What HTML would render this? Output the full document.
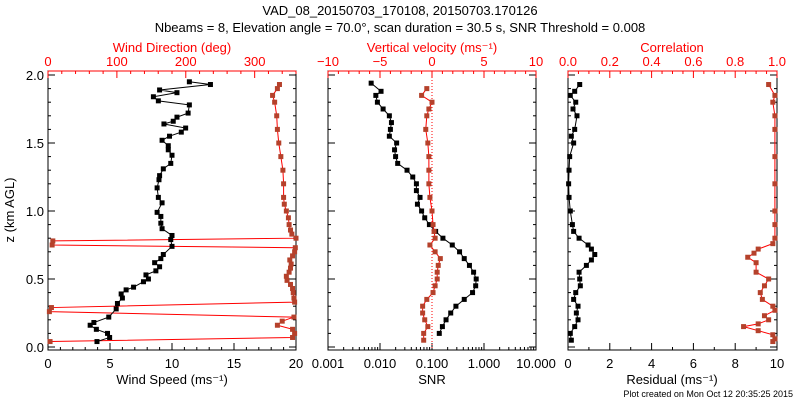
<!DOCTYPE html>
<html><head><meta charset="utf-8"><style>
html,body{margin:0;padding:0;background:#fff;}
svg{display:block;font-family:"Liberation Sans",sans-serif;}
</style></head><body>
<svg id="c" width="800" height="400" xmlns="http://www.w3.org/2000/svg">
<text x="400" y="15" font-size="13" text-anchor="middle">VAD_08_20150703_170108, 20150703.170126</text>
<text x="400" y="32" font-size="13" text-anchor="middle">Nbeams = 8, Elevation angle = 70.0°, scan duration = 30.5 s, SNR Threshold = 0.008</text>
<text x="793" y="397" font-size="9" text-anchor="end">Plot created on Mon Oct 12 20:35:25 2015</text>
</svg>
<script>
// ---- data ----
const speedZ = [0.04,0.07,0.10,0.13,0.16,0.18,0.22,0.28,0.32,0.36,0.39,0.42,0.44,0.48,0.50,0.53,0.56,0.59,0.62,0.65,0.68,0.74,0.79,0.82,0.87,0.91,0.96,0.99,1.06,1.10,1.17,1.23,1.26,1.31,1.35,1.41,1.45,1.48,1.52,1.55,1.58,1.61,1.64,1.66,1.69,1.72,1.78,1.81,1.84,1.87,1.89,1.93,1.95];
const speed = [3.95,4.97,4.8,3.9,3.4,3.7,4.9,5.5,5.6,6.0,5.9,6.3,6.9,7.7,8.1,7.9,8.7,9.0,8.6,9.1,9.3,10.0,9.9,10.0,9.2,9.1,9.1,8.8,9.2,8.9,8.8,8.95,9.0,9.3,9.9,10.0,9.7,9.7,9.2,9.8,10.75,11.1,9.35,10.1,10.4,11.3,11.4,8.9,8.5,10.4,9.0,13.1,11.4];
const dirZ = [0.04,0.07,0.10,0.13,0.16,0.19,0.22,0.26,0.29,0.33,0.36,0.40,0.43,0.46,0.49,0.52,0.55,0.58,0.61,0.64,0.67,0.70,0.73,0.75,0.78,0.80,0.83,0.86,0.90,0.95,1.00,1.05,1.10,1.20,1.30,1.40,1.50,1.60,1.70,1.80,1.85,1.90,1.93];
const dir = [3,355,358,355,333,340,357,2,5,358,357,356,355,352,347,346,350,352,353,351,355,358,359,6,7,360,354,352,350,349,346,343,342,342,341,338,335,333,332,329,326,333,336];
const snrZ = [0.10,0.15,0.20,0.25,0.30,0.35,0.40,0.45,0.50,0.55,0.60,0.65,0.70,0.75,0.80,0.85,0.90,0.95,1.00,1.05,1.10,1.15,1.20,1.25,1.30,1.35,1.40,1.45,1.50,1.55,1.60,1.65,1.70,1.75,1.80,1.85,1.88,1.94];
const snrLog = [-0.86,-0.80,-0.73,-0.64,-0.54,-0.38,-0.22,-0.16,-0.15,-0.20,-0.28,-0.38,-0.47,-0.61,-0.79,-0.93,-1.05,-1.14,-1.20,-1.28,-1.23,-1.30,-1.30,-1.37,-1.48,-1.66,-1.70,-1.72,-1.68,-1.82,-1.80,-1.78,-1.82,-1.94,-2.05,-2.08,-1.98,-2.17];
const velZ = [0.05,0.10,0.15,0.20,0.25,0.30,0.35,0.40,0.45,0.50,0.55,0.60,0.65,0.70,0.75,0.80,0.85,0.90,1.00,1.10,1.20,1.30,1.40,1.50,1.60,1.70,1.75,1.80,1.85,1.90];
const vel = [-0.8,-0.8,-0.4,-0.7,-0.9,-0.9,-0.5,0.1,0.3,0.5,0.5,0.6,0.8,0.3,-0.2,0.3,0.2,0.1,0.0,-0.2,-0.3,-0.3,-0.3,-0.4,-0.6,-0.5,-0.3,0.0,-1.0,-0.5];
const resZ = [0.05,0.10,0.15,0.20,0.25,0.30,0.35,0.40,0.45,0.50,0.55,0.60,0.64,0.68,0.72,0.75,0.80,0.85,0.90,1.00,1.10,1.20,1.30,1.40,1.50,1.55,1.60,1.70,1.75,1.80,1.85,1.88,1.93];
const resid = [0.16,0.11,0.32,0.48,0.40,0.48,0.27,0.37,0.59,0.56,0.53,0.88,1.12,1.28,1.12,0.96,0.53,0.27,0.21,0.11,0.05,0.03,0.05,0.08,0.27,0.16,0.32,0.43,0.24,0.37,0.11,0.32,0.56];
const corZ = [0.04,0.06,0.09,0.12,0.15,0.17,0.20,0.23,0.27,0.30,0.35,0.40,0.45,0.50,0.55,0.62,0.66,0.69,0.72,0.76,0.80,0.90,1.00,1.20,1.40,1.60,1.70,1.80,1.85,1.93];
const corr = [0.98,0.99,0.98,0.91,0.84,0.91,0.96,0.94,0.99,0.98,0.93,0.92,0.94,0.96,0.90,0.90,0.86,0.89,0.91,0.98,0.99,0.99,0.99,0.99,0.99,0.99,0.99,0.98,0.99,0.96];
const speedTicks = ["0","5","10","15","20"];
const dirTicks = ["0","100","200","300"];
const velTicks = ["−10","−5","0","5","10"];
const snrTicks = ["0.001","0.010","0.100","1.000","10.000"];
const corTicks = ["0.0","0.2","0.4","0.6","0.8","1.0"];
const resTicks = ["0","2","4","6","8","10"];
const zTicks = ["0.0","0.5","1.0","1.5","2.0"];

// ---- drawing ----
const svg = document.getElementById('c');
const NS = 'http://www.w3.org/2000/svg';
const RED = '#ff0000', BR = '#b5412b';
const TOP = 71, BOT = 350;
const yZ = z => 347 - 136 * z;
function el(tag, attrs, parent) {
  const e = document.createElementNS(NS, tag);
  for (const k in attrs) e.setAttribute(k, attrs[k]);
  (parent || svg).appendChild(e);
  return e;
}
function txt(x, y, s, attrs) {
  const t = el('text', Object.assign({x: x, y: y, 'font-size': 13, 'text-anchor': 'middle'}, attrs || {}));
  t.textContent = s;
  return t;
}
const P = [{x0: 48, x1: 296}, {x0: 328, x1: 536}, {x0: 568, x1: 777}];
P.forEach((p, i) => {
  const f = el('rect', {x: p.x0, y: TOP, width: p.x1 - p.x0, height: BOT - TOP, fill: 'none', stroke: '#000'});
  
  
  const tl = el('line', {x1: p.x0, x2: p.x1, y1: TOP, y2: TOP, stroke: RED});
  
  
  // y ticks
  for (let k = 0; k <= 20; k++) {
    const y = yZ(k / 10), len = k % 5 === 0 ? 7 : 3;
    el('line', {x1: p.x0, x2: p.x0 + len, y1: y, y2: y, stroke: '#000'});
    el('line', {x1: p.x1, x2: p.x1 - len, y1: y, y2: y, stroke: '#000'});
  }
});
zTicks.forEach((s, k) => {
  const t = txt(44, yZ(k * 0.5) + 5, s, {'text-anchor': 'end'});
  
  
});
const yt = txt(0, 0, 'z (km AGL)', {transform: 'translate(14,210) rotate(-90)'});



function linAxis(p, lo, hi, labels, major, minor, isTop, color, name) {
  const sx = v => p.x0 + (v - lo) / (hi - lo) * (p.x1 - p.x0);
  const y = isTop ? TOP : BOT, d = isTop ? 1 : -1;
  for (let v = lo; v <= hi + 1e-9; v += minor) {
    const isMaj = Math.abs(Math.round((v - lo) / major) * major - (v - lo)) < 1e-6;
    el('line', {x1: sx(v), x2: sx(v), y1: y, y2: y + d * (isMaj ? 7 : 3), stroke: color});
  }
  labels.forEach((s, k) => {
    const t = txt(sx(lo + k * major), isTop ? 66 : 368, s, {fill: color});
    
    
  });
  return sx;
}
const sxSpeed = linAxis(P[0], 0, 20, speedTicks, 5, 1, false, '#000', 'speed-tick-label');
const sxDir = linAxis({x0: 48, x1: 296}, 0, 360, dirTicks, 100, 20, true, RED, 'direction-tick-label');
const sxVel = linAxis(P[1], -10, 10, velTicks, 5, 1, true, RED, 'velocity-tick-label');
const sxCor = linAxis(P[2], 0, 1, corTicks, 0.2, 0.05, true, RED, 'correlation-tick-label');
const sxRes = linAxis(P[2], 0, 10, resTicks, 2, 1, false, '#000', 'residual-tick-label');
// log axis
const sxSnr = l => P[1].x0 + (l + 3) / 4 * (P[1].x1 - P[1].x0);
for (let dcd = -3; dcd <= 1; dcd++) {
  for (let m = 1; m <= 9; m++) {
    const l = dcd + Math.log10(m);
    if (l > 1) break;
    el('line', {x1: sxSnr(l), x2: sxSnr(l), y1: BOT, y2: BOT - (m === 1 ? 7 : 3), stroke: '#000'});
  }
}
snrTicks.forEach((s, k) => {
  const t = txt(sxSnr(k - 3), 368, s);
  
  
});
// titles
[[172, 384, 'Wind Speed (ms⁻¹)', '#000', 'x-axis-title-speed'],
 [172, 52, 'Wind Direction (deg)', RED, 'x-axis-title-direction'],
 [432, 52, 'Vertical velocity (ms⁻¹)', RED, 'x-axis-title-velocity'],
 [432, 384, 'SNR', '#000', 'x-axis-title-snr'],
 [672, 52, 'Correlation', RED, 'x-axis-title-correlation'],
 [672, 384, 'Residual (ms⁻¹)', '#000', 'x-axis-title-residual']].forEach(a => {
  const t = txt(a[0], a[1], a[2], {fill: a[3]});
  
  
});
// zero velocity dotted line
el('line', {x1: sxVel(0), x2: sxVel(0), y1: TOP, y2: BOT, stroke: RED, 'stroke-dasharray': '1,2'});

function series(xs, zs, sx, lineColor, markColor, name) {
  const g = el('g', {});
  
  
  const pts = xs.map((v, i) => [sx(v), yZ(zs[i])]);
  el('polyline', {points: pts.map(p => p.join(',')).join(' '), fill: 'none', stroke: lineColor, 'stroke-width': 1}, g);
  pts.forEach(p => {
    const m = el('rect', {x: p[0] - 2.5, y: p[1] - 2.5, width: 5, height: 5, fill: markColor}, g);
    
    
  });
}
series(dir, dirZ, sxDir, RED, BR, 'wind-direction-series');
series(speed, speedZ, sxSpeed, '#000', '#000', 'wind-speed-series');
series(snrLog, snrZ, sxSnr, '#000', '#000', 'snr-series');
series(vel, velZ, sxVel, RED, BR, 'vertical-velocity-series');
series(resid, resZ, sxRes, '#000', '#000', 'residual-series');
series(corr, corZ, sxCor, RED, BR, 'correlation-series');
</script>
</body></html>
